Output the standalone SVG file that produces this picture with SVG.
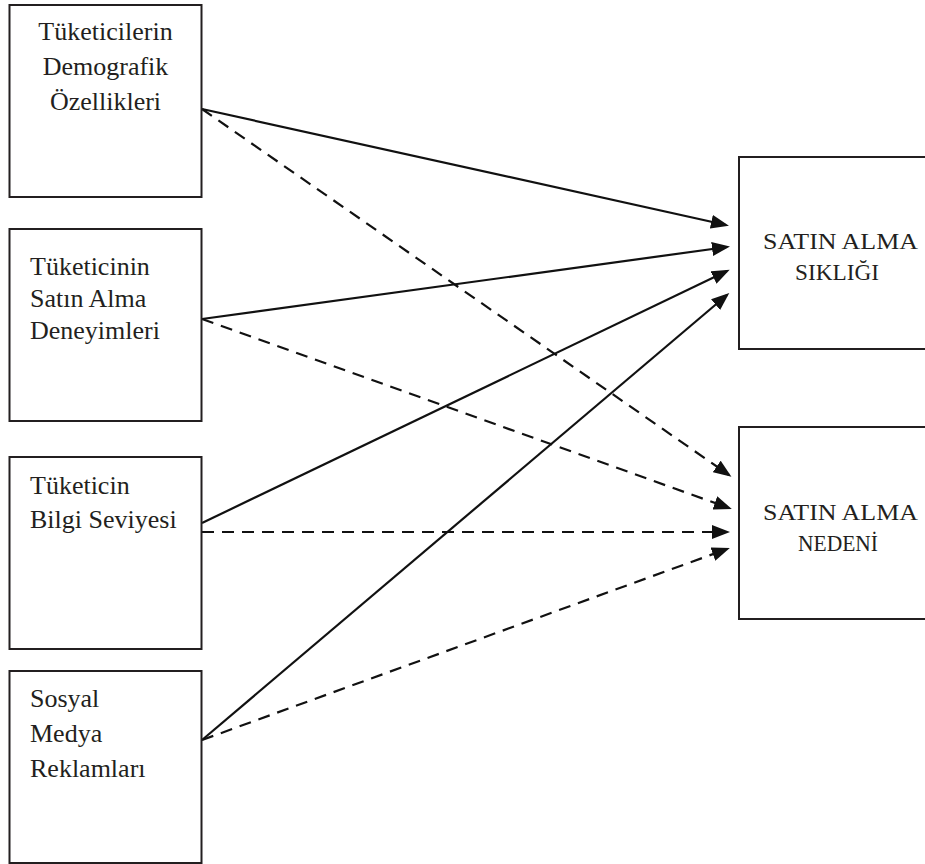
<svg xmlns="http://www.w3.org/2000/svg" width="925" height="864" viewBox="0 0 925 864">
<style>
.box{fill:#fff;stroke:#231f20;stroke-width:2}
.t{font-family:"Liberation Serif","Times New Roman",serif;font-size:26px;fill:#231f20}
.tr{font-family:"Liberation Serif","Times New Roman",serif;font-size:23px;fill:#231f20}
.c{stroke:#111;stroke-width:2.2;fill:none}
.d{stroke-dasharray:12 8}
</style>
<defs>
<marker id="ah" markerUnits="userSpaceOnUse" markerWidth="18" markerHeight="14" refX="15" refY="7" orient="auto">
<path d="M0,0 L18,7 L0,14 z" fill="#111"/>
</marker>
</defs>
<rect width="925" height="864" fill="#fff"/>
<g id="connectors">
<line class="c" x1="202" y1="109" x2="726" y2="225" marker-end="url(#ah)"/>
<line class="c d" x1="202" y1="109" x2="729" y2="475" marker-end="url(#ah)"/>
<line class="c" x1="202" y1="319" x2="727" y2="247" marker-end="url(#ah)"/>
<line class="c d" x1="202" y1="319" x2="729" y2="508" marker-end="url(#ah)"/>
<line class="c" x1="202" y1="523" x2="727" y2="271" marker-end="url(#ah)"/>
<line class="c d" x1="202" y1="532" x2="727" y2="532" marker-end="url(#ah)"/>
<line class="c" x1="202" y1="740" x2="727" y2="295" marker-end="url(#ah)"/>
<line class="c d" x1="202" y1="740" x2="727" y2="549" marker-end="url(#ah)"/>
</g>
<g id="n1">
<rect class="box" x="9.5" y="5" width="192" height="192"/>
<text class="t" x="105.5" y="40" text-anchor="middle">Tüketicilerin</text>
<text class="t" x="105.5" y="75" text-anchor="middle">Demografik</text>
<text class="t" x="105.5" y="110" text-anchor="middle">Özellikleri</text>
</g>
<g id="n2">
<rect class="box" x="9.5" y="229" width="192" height="192"/>
<text class="t" x="30" y="275">Tüketicinin</text>
<text class="t" x="30" y="307">Satın Alma</text>
<text class="t" x="30" y="339">Deneyimleri</text>
</g>
<g id="n3">
<rect class="box" x="9.5" y="457" width="192" height="192"/>
<text class="t" x="30" y="494">Tüketicin</text>
<text class="t" x="30" y="528">Bilgi Seviyesi</text>
</g>
<g id="n4">
<rect class="box" x="9.5" y="671" width="192" height="192"/>
<text class="t" x="30" y="707">Sosyal</text>
<text class="t" x="30" y="742">Medya</text>
<text class="t" x="30" y="777">Reklamları</text>
</g>
<g id="n5">
<rect class="box" x="739" y="157" width="200" height="192"/>
<text class="tr" x="763" y="249" textLength="155" lengthAdjust="spacingAndGlyphs">SATIN ALMA</text>
<text class="tr" x="795" y="280" textLength="84" lengthAdjust="spacingAndGlyphs">SIKLIĞI</text>
</g>
<g id="n6">
<rect class="box" x="739" y="427" width="200" height="192"/>
<text class="tr" x="763" y="520" textLength="155" lengthAdjust="spacingAndGlyphs">SATIN ALMA</text>
<text class="tr" x="798" y="551" textLength="80" lengthAdjust="spacingAndGlyphs">NEDENİ</text>
</g>
</svg>
